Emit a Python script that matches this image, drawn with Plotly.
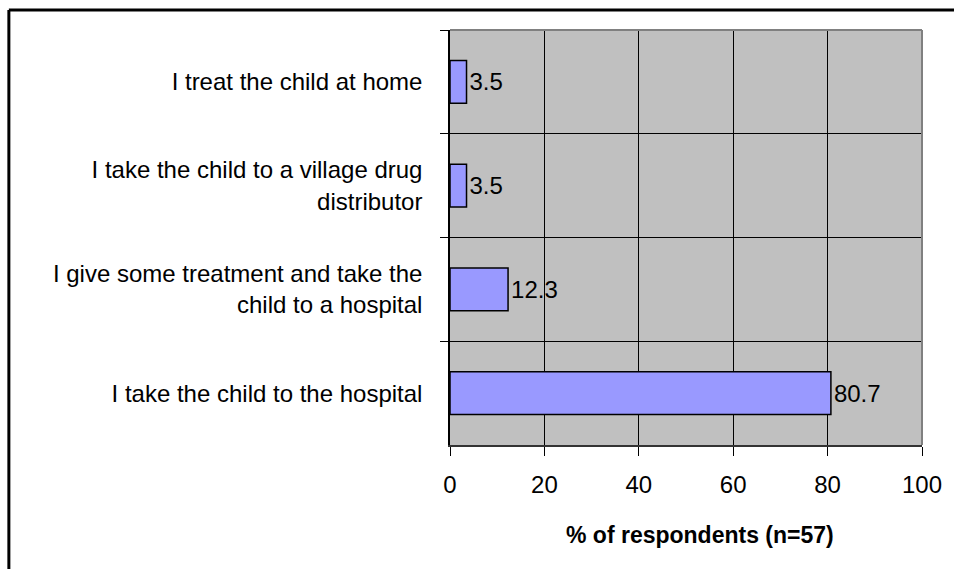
import plotly.graph_objects as go

# Responses: what caregivers do when a child falls ill
categories = [
    "I treat the child at home",
    "I take the child to a village drug<br>distributor",
    "I give some treatment and take the<br>child to a hospital",
    "I take the child to the hospital",
]
percent = [3.5, 3.5, 12.3, 80.7]
x_ticks = [0, 20, 40, 60, 80, 100]
x_title = "<b>% of respondents (n=57)</b>"

FONT = "Liberation Sans, Arial, sans-serif"

fig = go.Figure(
    go.Bar(
        x=percent,
        y=categories,
        orientation="h",
        marker=dict(color="#9999FF", line=dict(color="black", width=1.5)),
        text=[f"{v:.1f}" for v in percent],
        textposition="outside",
        textfont=dict(family=FONT, size=24, color="black"),
        cliponaxis=False,
        width=0.41,
    )
)

fig.update_layout(
    width=954,
    height=569,
    margin=dict(l=450, r=30, t=30, b=124),
    paper_bgcolor="white",
    plot_bgcolor="#C0C0C0",
    showlegend=False,
    font=dict(family=FONT, size=24, color="black"),
    xaxis=dict(
        range=[0, 100],
        tickvals=x_ticks,
        ticktext=[str(t) for t in x_ticks],
        ticks="outside",
        ticklen=9,
        tickcolor="black",
        tickwidth=1,
        showgrid=True,
        gridcolor="black",
        gridwidth=1,
        zeroline=False,
        showline=True,
        linecolor="#333333",
        linewidth=1.5,
        ticklabelstandoff=8,
        tickfont=dict(size=24),
    ),
    yaxis=dict(
        categoryorder="array",
        categoryarray=categories,
        autorange="reversed",
        tickson="boundaries",
        ticks="outside",
        ticklen=8,
        tickcolor="black",
        showgrid=True,
        gridcolor="black",
        gridwidth=1,
        zeroline=False,
        showline=True,
        linecolor="black",
        linewidth=1.5,
        ticklabelstandoff=21,
        tickfont=dict(size=24),
    ),
    annotations=[
        dict(text=x_title, xref="paper", yref="paper", x=0.53, y=-0.217,
             xanchor="center", yanchor="middle", showarrow=False,
             font=dict(family=FONT, size=23, color="black")),
    ],
    shapes=[
        # gray border on the top and right of the plotting area
        dict(type="line", xref="paper", yref="paper", x0=0, x1=1, y0=1, y1=1,
             line=dict(color="#808080", width=2)),
        dict(type="line", xref="paper", yref="paper", x0=1, x1=1, y0=0, y1=1,
             line=dict(color="#808080", width=2)),
        # outer chart frame
        dict(type="line", xref="paper", yref="paper", x0=-0.9346, x1=-0.9346,
             y0=1.048, y1=-0.35, line=dict(color="black", width=3)),
        dict(type="line", xref="paper", yref="paper", x0=-0.9346, x1=1.2,
             y0=1.048, y1=1.048, line=dict(color="black", width=3)),
    ],
)

fig.write_html("out.html")
